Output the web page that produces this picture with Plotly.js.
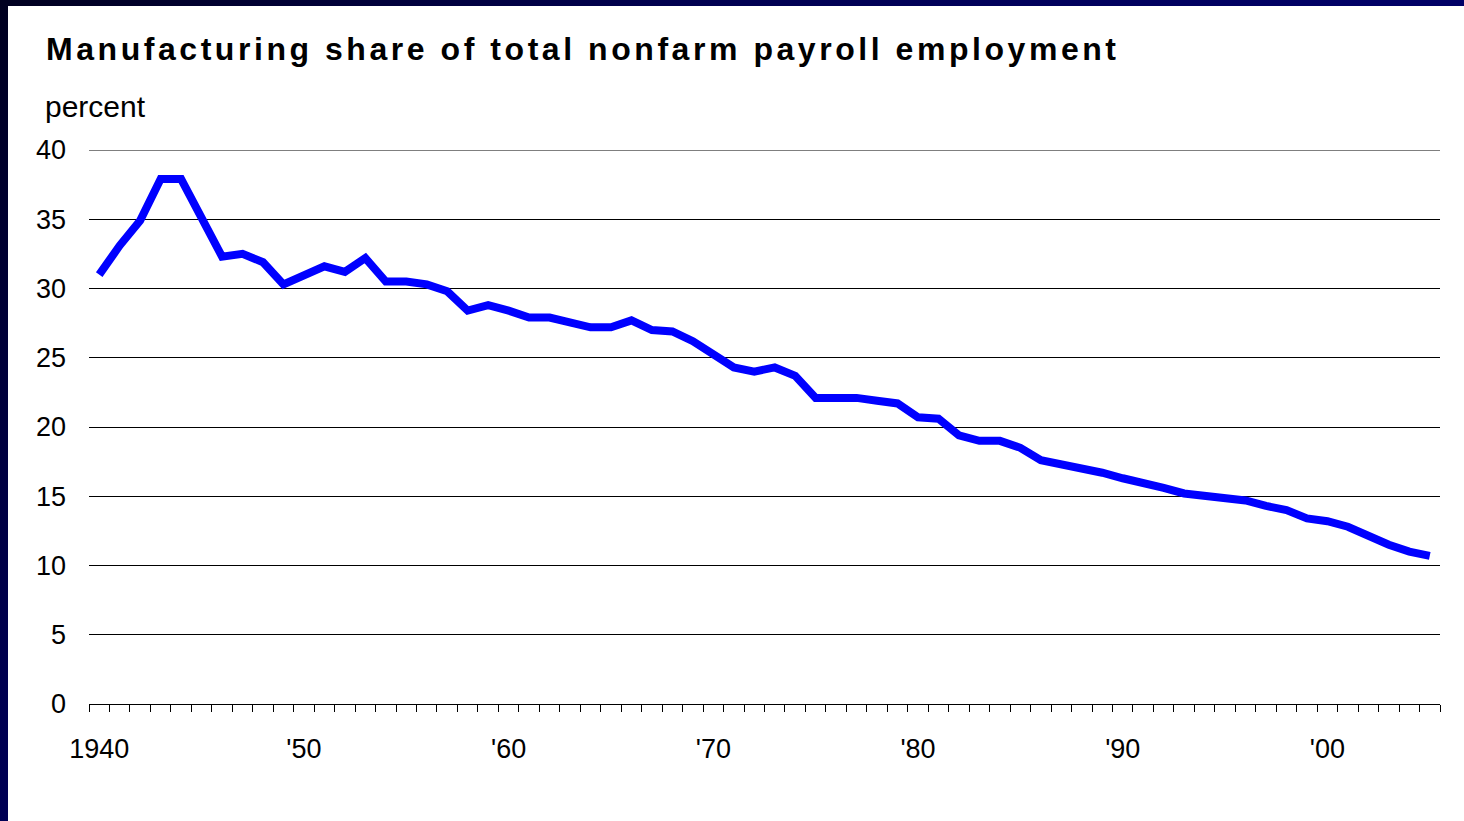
<!DOCTYPE html>
<html>
<head>
<meta charset="utf-8">
<script src="https://cdn.plot.ly/plotly-3.0.1.min.js"></script>
<style>
  html, body { margin: 0; padding: 0; width: 1464px; height: 821px; overflow: hidden;
    background: linear-gradient(135deg, #000020 0%, #000050 30%, #000066 60%); }
  #chart { position: absolute; left: 8px; top: 6px; width: 1456px; height: 815px; background: #fff; }
  .gtitle { letter-spacing: 3.55px; }
</style>
</head>
<body>
<div id="chart"></div>
<script>
// Years (categories)
const years = [1940,1941,1942,1943,1944,1945,1946,1947,1948,1949,
               1950,1951,1952,1953,1954,1955,1956,1957,1958,1959,
               1960,1961,1962,1963,1964,1965,1966,1967,1968,1969,
               1970,1971,1972,1973,1974,1975,1976,1977,1978,1979,
               1980,1981,1982,1983,1984,1985,1986,1987,1988,1989,
               1990,1991,1992,1993,1994,1995,1996,1997,1998,1999,
               2000,2001,2002,2003,2004,2005];
// Manufacturing share of total nonfarm payroll employment, percent
const share = [31.0,33.1,34.9,37.9,37.9,35.2,32.3,32.5,31.9,30.3,
               31.0,31.6,31.2,32.2,30.5,30.5,30.3,29.8,28.4,28.8,
               28.4,27.9,27.9,27.6,27.2,27.2,27.7,27.0,26.9,26.2,
               25.2,24.3,24.0,24.3,23.7,22.1,22.1,22.1,21.9,21.7,
               20.7,20.6,19.4,19.0,19.0,18.5,17.6,17.3,17.1,16.7,
               16.3,16.0,15.6,15.2,15.0,14.9,14.7,14.3,14.0,13.4,
               13.2,12.8,12.1,11.5,11.0,10.7];
// Axis labels
const xTickVals = [1940,1950,1960,1970,1980,1990,2000];
const xTickText = ["1940","'50","'60","'70","'80","'90","'00"];
const yTickVals = [0,5,10,15,20,25,30,35,40];
const yMax = 40;

const W = 1456, H = 815;
const ml = 81, mr = 24, mt = 144, mb = 117;
const pw = W - ml - mr, ph = H - mt - mb;

const trace = {
  x: years, y: share, type: 'scatter', mode: 'lines',
  line: { color: '#0000FF', width: 8, shape: 'linear' },
  hoverinfo: 'x+y'
};

const layout = {
  width: W, height: H,
  margin: { l: ml, r: mr, t: mt, b: mb, pad: 0 },
  paper_bgcolor: '#ffffff', plot_bgcolor: '#ffffff',
  font: { family: 'Liberation Sans, Arial, sans-serif', color: '#000' },
  showlegend: false,
  title: {
    text: '<b>Manufacturing share of total nonfarm payroll employment</b>',
    font: { family: 'Liberation Sans, Arial, sans-serif', size: 32, color: '#000' },
    x: 38 / W, xanchor: 'left', xref: 'container',
    y: 1 - 43 / H, yanchor: 'middle', yref: 'container'
  },
  xaxis: {
    type: 'linear', range: [1939.5, 2005.5],
    tickmode: 'array', tickvals: xTickVals, ticktext: xTickText,
    ticks: 'outside', ticklen: 7, tickcolor: 'rgba(0,0,0,0)', tickwidth: 1,
    ticklabelstandoff: 14,
    minor: { tickmode: 'linear', tick0: 1939.5, dtick: 1, ticks: 'outside', ticklen: 7, tickcolor: '#000', tickwidth: 1, showgrid: false },
    showline: true, linecolor: '#000', linewidth: 1,
    showgrid: false, zeroline: false,
    tickfont: { size: 27, color: '#000', family: 'Liberation Sans, Arial, sans-serif' },
    fixedrange: true
  },
  yaxis: {
    range: [0, yMax], tickmode: 'array', tickvals: yTickVals,
    showgrid: true, gridcolor: '#000', gridwidth: 1,
    zeroline: false, showline: false, ticks: '',
    ticklabelstandoff: 22,
    tickfont: { size: 27, color: '#000', family: 'Liberation Sans, Arial, sans-serif' },
    fixedrange: true
  },
  shapes: [{
    type: 'line', xref: 'paper', yref: 'y', x0: 0, x1: 1, y0: yMax, y1: yMax,
    line: { color: '#000', width: 1 }, layer: 'below'
  }],
  annotations: [{
    text: 'percent', showarrow: false,
    xref: 'paper', yref: 'paper',
    x: (35 - ml) / pw, xanchor: 'left',
    y: (H - mb - 100) / ph, yanchor: 'middle',
    font: { size: 30, color: '#000', family: 'Liberation Sans, Arial, sans-serif' }
  }]
};

Plotly.newPlot('chart', [trace], layout, { displayModeBar: false, staticPlot: true });
</script>
</body>
</html>
